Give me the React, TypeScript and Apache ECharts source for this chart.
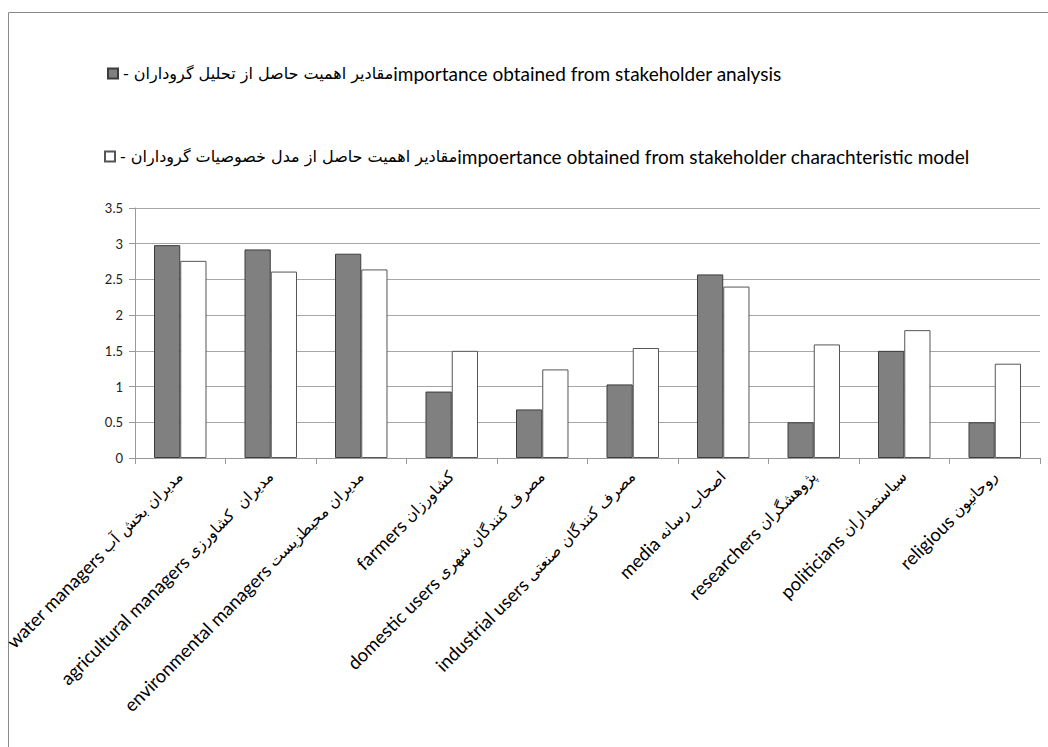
import { useEffect, useRef } from "react";
import * as echarts from "echarts";

const categoriesEn = [
  "water managers",
  "agricultural managers",
  "environmental managers",
  "farmers",
  "domestic users",
  "industrial users",
  "media",
  "researchers",
  "politicians",
  "religious",
];
const categoriesFa = [
  "مدیران بخش آب",
  "مدیران  کشاورزی",
  "مدیران محیطزیست",
  "کشاورزان",
  "مصرف کنندگان شهری",
  "مصرف کنندگان صنعتی",
  "اصحاب رسانه",
  "پژوهشگران",
  "سیاستمداران",
  "روحانیون",
];
const categories = categoriesEn.map((e, i) => e + " " + categoriesFa[i]);

const seriesFa = ["مقادیر اهمیت حاصل از تحلیل گروداران", "مقادیر اهمیت حاصل از مدل خصوصیات گروداران"];
const seriesEn = [
  "importance obtained from stakeholder analysis",
  "impoertance obtained from stakeholder charachteristic model",
];
const seriesNames = seriesFa.map((f, i) => f + seriesEn[i]);

const stakeholderAnalysis = [2.98, 2.92, 2.86, 0.93, 0.68, 1.03, 2.57, 0.5, 1.5, 0.5];
const characteristicModel = [2.76, 2.61, 2.64, 1.5, 1.24, 1.54, 2.4, 1.59, 1.79, 1.32];

const yMin = 0;
const yMax = 3.5;
const yInterval = 0.5;

const FONT = "Lato, 'DejaVu Sans', sans-serif";
const FA_FONT = "'DejaVu Sans', sans-serif";

export default function App() {
  const ref = useRef<HTMLDivElement>(null);

  useEffect(() => {
    document.body.style.margin = "0";
    if (!ref.current) return;
    const chart = echarts.init(ref.current, null, { renderer: "svg" });
    const rich = {
      en: { fontSize: 19, color: "#000", fontFamily: FONT },
      fa: { fontSize: 16, color: "#000", fontFamily: FA_FONT },
    };
    const axisRich = {
      en: { fontSize: 18.5, color: "#000", fontFamily: FONT },
      fa: { fontSize: 15.5, color: "#000", fontFamily: FA_FONT },
    };
    const legendFormatter = (n: string) => {
      const i = seriesNames.indexOf(n);
      return "{fa|- " + seriesFa[i] + "}{en|" + seriesEn[i] + "}";
    };
    const legendBase = {
      padding: 0,
      icon: "rect",
      itemWidth: 10,
      itemHeight: 10,
      textStyle: { fontSize: 16, color: "#000", fontFamily: FONT, rich },
      formatter: legendFormatter,
      selectedMode: false,
    };
    chart.setOption({
      animation: false,
      backgroundColor: "#fff",
      textStyle: { fontFamily: FONT },
      graphic: [
        {
          type: "rect",
          shape: { x: 8.5, y: 12.5, width: 1100, height: 800 },
          style: { fill: "none", stroke: "#8a8a8a", lineWidth: 1 },
          silent: true,
        },
      ],
      legend: [
        { ...legendBase, data: [seriesNames[0]], left: 107, top: 64 },
        { ...legendBase, data: [seriesNames[1]], left: 104, top: 147 },
      ],
      grid: { left: 135, right: 8, top: 208, bottom: 289, containLabel: false },
      xAxis: {
        type: "category",
        data: categories,
        axisLine: { show: true, lineStyle: { color: "#999", width: 1 } },
        axisTick: { show: true, length: 6, lineStyle: { color: "#999" } },
        axisLabel: {
          interval: 0,
          rotate: 45,
          margin: 16,
          fontSize: 16,
          color: "#000",
          fontFamily: FONT,
          rich: axisRich,
          formatter: (_v: string, i: number) => "{en|" + categoriesEn[i] + " }{fa|" + categoriesFa[i] + "}",
        },
        splitLine: { show: false },
      },
      yAxis: {
        type: "value",
        min: yMin,
        max: yMax,
        interval: yInterval,
        axisLine: { show: true, lineStyle: { color: "#999", width: 1 } },
        axisTick: { show: true, length: 6, lineStyle: { color: "#999" } },
        axisLabel: {
          fontSize: 13,
          color: "#222",
          margin: 12,
          fontFamily: FONT,
        },
        splitLine: { show: true, lineStyle: { color: "#a6a6a6", width: 1 } },
      },
      series: [
        {
          name: seriesNames[0],
          type: "bar",
          data: stakeholderAnalysis,
          barGap: "0%",
          barCategoryGap: "42%",
          itemStyle: { color: "#808080", borderColor: "#3c3c3c", borderWidth: 1 },
        },
        {
          name: seriesNames[1],
          type: "bar",
          data: characteristicModel,
          barGap: "0%",
          barCategoryGap: "42%",
          itemStyle: { color: "#ffffff", borderColor: "#555555", borderWidth: 1 },
        },
      ],
    });
    return () => chart.dispose();
  }, []);

  return <div ref={ref} style={{ width: 1048, height: 747 }} />;
}
